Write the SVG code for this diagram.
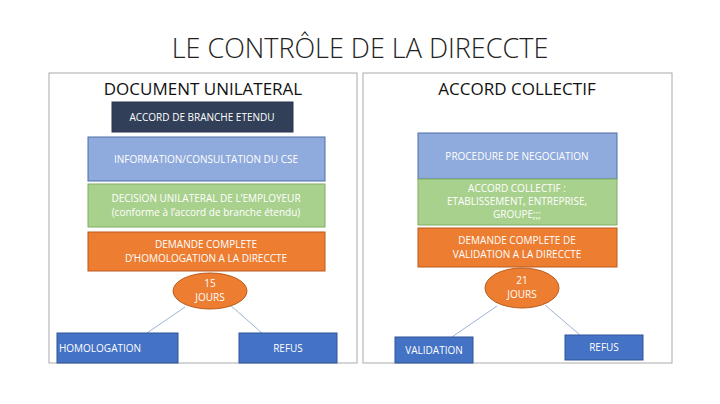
<svg xmlns="http://www.w3.org/2000/svg" width="720" height="404" viewBox="0 0 720 404">
<style>
text{font-family:"Open Sans","Liberation Sans",sans-serif;text-anchor:middle}
.t{fill:#fff;font-size:10px}
.h{fill:#111;font-size:17px}
.panel{fill:#fff;stroke:#aaa;stroke-width:1}
.dk{fill:#323F59;stroke:#2a3550}
.bl{fill:#8FAADC;stroke:#4f6fa8}
.gr{fill:#A9D18E;stroke:#7fae62}
.or{fill:#ED7D31;stroke:#ba5b1c}
.bt{fill:#4472C4;stroke:#2f5597}
.c{stroke:#9db3d6;stroke-width:1;fill:none}
</style>
<rect width="720" height="404" fill="#fff"/>
<text x="360" y="58" style="font-size:27px;fill:#222;font-weight:300">LE CONTRÔLE DE LA DIRECCTE</text>
<rect class="panel" x="49" y="73" width="308" height="290"/>
<rect class="panel" x="363" y="73" width="309" height="290"/>
<text class="h" x="203" y="95">DOCUMENT UNILATERAL</text>
<text class="h" x="517" y="95">ACCORD COLLECTIF</text>
<g id="connectors">
<line class="c" x1="185" y1="307" x2="147" y2="333"/>
<line class="c" x1="230" y1="305" x2="262" y2="333"/>
<line class="c" x1="497" y1="306" x2="452" y2="337"/>
<line class="c" x1="545" y1="305" x2="580" y2="335"/>
</g>
<g id="n1"><rect class="dk" x="112" y="102" width="181" height="30"/><text class="t" x="202" y="121">ACCORD DE BRANCHE ETENDU</text></g>
<g id="n2"><rect class="bl" x="88" y="137" width="237" height="44"/><text class="t" x="206" y="163">INFORMATION/CONSULTATION DU CSE</text></g>
<g id="n3"><rect class="gr" x="88" y="184" width="237" height="43"/><text class="t" x="206" y="202">DECISION UNILATERAL DE L’EMPLOYEUR</text><text class="t" x="206" y="216">(conforme à l’accord de branche étendu)</text></g>
<g id="n4"><rect class="or" x="88" y="232" width="237" height="39"/><text class="t" x="206" y="248">DEMANDE COMPLETE</text><text class="t" x="206" y="262">D’HOMOLOGATION A LA DIRECCTE</text></g>
<g id="n5"><ellipse class="or" cx="210" cy="291" rx="37" ry="18"/><text class="t" x="210" y="287">15</text><text class="t" x="210" y="301">JOURS</text></g>
<g id="n6"><rect class="bt" x="57" y="333" width="121" height="30"/><text class="t" x="100" y="352">HOMOLOGATION</text></g>
<g id="n7"><rect class="bt" x="239" y="333" width="98" height="30"/><text class="t" x="288" y="352">REFUS</text></g>
<g id="m1"><rect class="bl" x="418" y="133" width="199" height="46"/><text class="t" x="517" y="160">PROCEDURE DE NEGOCIATION</text></g>
<g id="m2"><rect class="gr" x="418" y="179" width="199" height="46"/><text class="t" x="517" y="192">ACCORD COLLECTIF :</text><text class="t" x="517" y="205">ETABLISSEMENT, ENTREPRISE,</text><text class="t" x="517" y="218">GROUPE;;;</text></g>
<g id="m3"><rect class="or" x="418" y="228" width="199" height="39"/><text class="t" x="517" y="244">DEMANDE COMPLETE DE</text><text class="t" x="517" y="258">VALIDATION A LA DIRECCTE</text></g>
<g id="m4"><ellipse class="or" cx="522" cy="288" rx="37" ry="20"/><text class="t" x="522" y="284">21</text><text class="t" x="522" y="298">JOURS</text></g>
<g id="m5"><rect class="bt" x="395" y="337" width="78" height="26"/><text class="t" x="434" y="354">VALIDATION</text></g>
<g id="m6"><rect class="bt" x="565" y="335" width="78" height="25"/><text class="t" x="604" y="351">REFUS</text></g>
</svg>
